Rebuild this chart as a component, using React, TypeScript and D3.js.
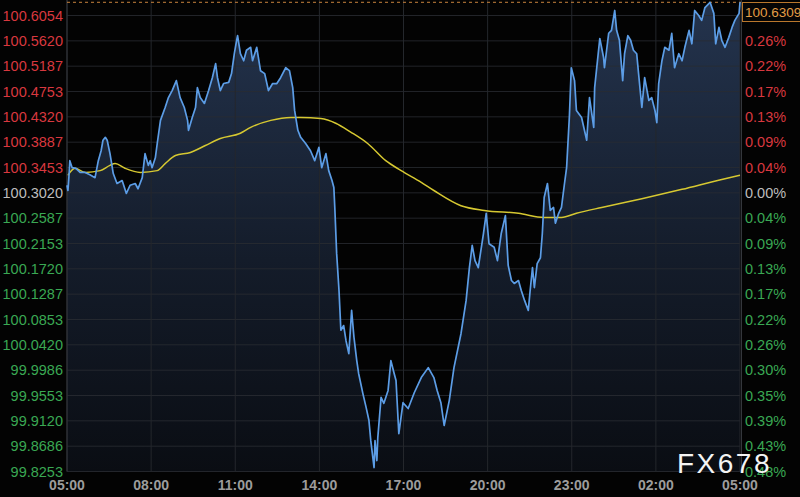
import React, { useEffect } from "react";
import * as d3 from "d3";

const W = 800;
const H = 497;

// minutes after 05:00
const priceTimes = [
  0, 2, 4, 6, 11, 19, 28, 39, 49, 60, 67, 73, 77, 82, 86, 92, 99, 107, 118, 127, 135, 146, 152, 161, 167, 174, 178, 182, 189, 193,
  200, 210, 217, 225, 234, 242, 251, 258, 260, 268, 275, 279, 285, 294, 303, 311, 318, 322, 328, 335, 346, 352, 358, 363, 365,
  371, 378, 384, 393, 397, 406, 414, 423, 431, 440, 449, 457, 468, 476, 483, 487, 494, 500, 511, 521, 530, 539, 545, 554, 560,
  567, 571, 573, 577, 582, 586, 592, 597, 603, 609, 614, 620, 624, 633, 640, 646, 650, 657, 659, 663, 665, 672, 678, 687, 693,
  700, 704, 710, 719, 730, 743, 758, 773, 785, 792, 800, 807, 818, 828, 843, 854, 861, 867, 873, 880, 891, 897, 903, 914, 921,
  929, 938, 944, 951, 957, 966, 972, 979, 987, 991, 996, 1000, 1006, 1013, 1017, 1021, 1028, 1034, 1041, 1045, 1052, 1058, 1064,
  1069, 1075, 1079, 1086, 1090, 1101, 1112, 1118, 1127, 1129, 1140, 1148, 1150, 1159, 1165, 1172, 1176, 1182, 1189, 1193, 1200,
  1206, 1212, 1219, 1223, 1230, 1236, 1245, 1251, 1258, 1262, 1266, 1273, 1279, 1288, 1294, 1300, 1309, 1316, 1322, 1331, 1337,
  1343, 1352, 1358, 1365, 1376, 1384, 1388, 1395, 1401, 1408, 1416, 1423, 1429, 1438, 1440,
];
const priceValues = [
  100.315, 100.306, 100.328, 100.357, 100.345, 100.344, 100.337, 100.337, 100.333, 100.328, 100.357, 100.374, 100.392, 100.397,
  100.392, 100.369, 100.335, 100.318, 100.323, 100.301, 100.315, 100.318, 100.309, 100.328, 100.369, 100.349, 100.357, 100.345,
  100.362, 100.386, 100.426, 100.448, 100.465, 100.477, 100.494, 100.465, 100.448, 100.426, 100.409, 100.431, 100.448, 100.482,
  100.465, 100.455, 100.477, 100.499, 100.523, 100.499, 100.477, 100.489, 100.491, 100.506, 100.54, 100.563, 100.571, 100.54,
  100.528, 100.546, 100.551, 100.528, 100.551, 100.511, 100.506, 100.477, 100.489, 100.489, 100.499, 100.516, 100.511, 100.482,
  100.443, 100.409, 100.397, 100.386, 100.374, 100.357, 100.38, 100.345, 100.369, 100.34, 100.323, 100.311, 100.277, 100.198,
  100.135, 100.067, 100.075, 100.049, 100.027, 100.101, 100.055, 100.015, 99.993, 99.959, 99.935, 99.913, 99.878, 99.832, 99.878,
  99.844, 99.883, 99.952, 99.942, 99.964, 100.015, 99.993, 99.981, 99.89, 99.943, 99.933, 99.96, 99.986, 100.003, 99.986, 99.964,
  99.943, 99.904, 99.947, 100.003, 100.061, 100.118, 100.174, 100.212, 100.186, 100.174, 100.232, 100.267, 100.215, 100.209,
  100.186, 100.232, 100.263, 100.178, 100.152, 100.147, 100.152, 100.135, 100.118, 100.101, 100.135, 100.174, 100.14, 100.181,
  100.191, 100.232, 100.294, 100.318, 100.272, 100.277, 100.25, 100.267, 100.277, 100.315, 100.345, 100.434, 100.516, 100.494,
  100.443, 100.431, 100.392, 100.465, 100.414, 100.482, 100.566, 100.534, 100.516, 100.575, 100.58, 100.614, 100.58, 100.563,
  100.494, 100.54, 100.571, 100.563, 100.546, 100.54, 100.506, 100.448, 100.499, 100.46, 100.465, 100.443, 100.422, 100.489,
  100.528, 100.551, 100.546, 100.575, 100.516, 100.54, 100.528, 100.551, 100.58, 100.557, 100.614, 100.605, 100.597, 100.619,
  100.628, 100.609, 100.557, 100.585, 100.563, 100.551, 100.568, 100.585, 100.597, 100.609, 100.628,
];

const maTimes = [
  2, 17, 39, 71, 92, 103, 124, 157, 193, 210, 232, 264, 296, 328, 371, 393, 436, 479, 500, 543, 575, 607, 644, 682, 715, 758, 785,
  843, 893, 966, 1021, 1058, 1090, 1144, 1230, 1316, 1401, 1440,
];
const maValues = [
  100.332, 100.344, 100.337, 100.34, 100.349, 100.352, 100.344, 100.337, 100.34, 100.352, 100.366, 100.371, 100.383, 100.395,
  100.404, 100.414, 100.426, 100.431, 100.431, 100.429, 100.421, 100.406, 100.386, 100.357, 100.34, 100.32, 100.306, 100.28,
  100.272, 100.267, 100.26, 100.26, 100.267, 100.277, 100.292, 100.308, 100.325, 100.332,
];

const yTickLabels = [
  "100.6054", "100.5620", "100.5187", "100.4753", "100.4320", "100.3887", "100.3453", "100.3020", "100.2587", "100.2153",
  "100.1720", "100.1287", "100.0853", "100.0420", "99.9986", "99.9553", "99.9120", "99.8686", "99.8253",
];
const baseValue = 100.302;
const lastPriceLabel = "100.6309";
const timeTickMinutes = [0, 180, 360, 540, 720, 900, 1080, 1260, 1440];
const timeTickLabels = ["05:00", "08:00", "11:00", "14:00", "17:00", "20:00", "23:00", "02:00", "05:00"];
const watermark = "FX678";

const RED = "#d8383f";
const GREEN = "#3aa853";
const GREY = "#bdbdbd";

export default function App() {
  useEffect(() => {
    document.body.style.margin = "0";
    document.body.style.background = "#000";
  }, []);

  const x = d3.scaleLinear().domain([0, 1440]).range([67, 740]);
  const tickVals = yTickLabels.map(Number);
  const y = d3
    .scaleLinear()
    .domain([tickVals[tickVals.length - 1], tickVals[0]])
    .range([471.5, 15.5]);

  const pts: [number, number][] = priceTimes.map((t, i) => [t, priceValues[i]]);
  const maPts: [number, number][] = maTimes.map((t, i) => [t, maValues[i]]);

  const line = d3
    .line<[number, number]>()
    .x((d) => x(d[0]))
    .y((d) => y(d[1]));
  const maLine = d3
    .line<[number, number]>()
    .x((d) => x(d[0]))
    .y((d) => y(d[1]))
    .curve(d3.curveMonotoneX);
  const area = d3
    .area<[number, number]>()
    .x((d) => x(d[0]))
    .y0(y.range()[0])
    .y1((d) => y(d[1]));

  const colorFor = (v: number) => (Math.abs(v - baseValue) < 1e-6 ? GREY : v > baseValue ? RED : GREEN);
  const pct = (v: number) => Math.abs(((v - baseValue) / baseValue) * 100).toFixed(2) + "%";
  const lastY = y(priceValues[priceValues.length - 1]);
  const [x0, x1] = x.range();

  return (
    <svg width={W} height={H} style={{ position: "absolute", left: 0, top: 0, display: "block", background: "#030303" }}>
      <defs>
        <linearGradient id="areaGrad" gradientUnits="userSpaceOnUse" x1="0" y1="0" x2="0" y2={y.range()[0]}>
          <stop offset="0%" stopColor="#24344e" />
          <stop offset="55%" stopColor="#141c2a" />
          <stop offset="100%" stopColor="#0a0d13" />
        </linearGradient>
        <clipPath id="plotClip">
          <rect x={x0} y={0} width={x1 - x0 + 1} height={y.range()[0] + 1} />
        </clipPath>
      </defs>
      <rect x={0} y={0} width={W} height={H} fill="#030303" />

      {/* area under price */}
      <path d={area(pts) ?? ""} fill="url(#areaGrad)" clipPath="url(#plotClip)" />

      {/* grid */}
      {tickVals.map((v, i) => (
        <line key={"h" + i} x1={x0} x2={x1} y1={y(v)} y2={y(v)} stroke="#2a2d33" strokeWidth={1} opacity={0.8} />
      ))}
      {timeTickMinutes.map((m, i) => (
        <line key={"v" + i} x1={x(m)} x2={x(m)} y1={0} y2={y.range()[0]} stroke="#24272c" strokeWidth={1} />
      ))}
      <line x1={x0} x2={x0} y1={0} y2={y.range()[0]} stroke="#34373c" />
      <line x1={741.5} x2={741.5} y1={0} y2={y.range()[0]} stroke="#34373c" />

      {/* dashed last price line */}
      <line x1={x0} x2={741} y1={lastY} y2={lastY} stroke="#c8843e" strokeDasharray="3,3" strokeWidth={1} />

      {/* moving average */}
      <path d={maLine(maPts) ?? ""} fill="none" stroke="#d6c831" strokeWidth={1.5} />
      {/* price line */}
      <path d={line(pts) ?? ""} fill="none" stroke="#5c9de6" strokeWidth={1.7} strokeLinejoin="round" />

      {/* left axis */}
      {yTickLabels.map((lab, i) => (
        <text
          key={"l" + i}
          x={63}
          y={y(tickVals[i])}
          dy="0.36em"
          textAnchor="end"
          fontFamily="Liberation Sans, Arial, sans-serif"
          fontSize={14.5}
          fill={colorFor(tickVals[i])}
        >
          {lab}
        </text>
      ))}

      {/* right axis */}
      {tickVals.slice(1).map((v, i) => (
        <text
          key={"r" + i}
          x={745}
          y={y(v)}
          dy="0.36em"
          textAnchor="start"
          fontFamily="Liberation Sans, Arial, sans-serif"
          fontSize={14.5}
          fill={colorFor(v)}
        >
          {pct(v)}
        </text>
      ))}

      {/* last price box */}
      <rect x={742.5} y={2.5} width={62} height={19} fill="#050505" stroke="#b9772c" strokeWidth={1} />
      <text x={745} y={17} fontFamily="Liberation Sans, Arial, sans-serif" fontSize={13.5} fill="#e39d45">
        {lastPriceLabel}
      </text>

      {/* time axis */}
      {timeTickMinutes.map((m, i) => (
        <text
          key={"t" + i}
          x={x(m)}
          y={485}
          dy="0.36em"
          textAnchor="middle"
          fontFamily="Liberation Sans, Arial, sans-serif"
          fontWeight="bold"
          fontSize={14}
          fill="#9c9c9c"
        >
          {timeTickLabels[i]}
        </text>
      ))}

      {/* watermark */}
      <text
        x={677}
        y={473}
        fontFamily="Liberation Sans, Arial, sans-serif"
        fontSize={28}
        letterSpacing={2.5}
        fill="#f4f4f4"
      >
        {watermark}
      </text>
    </svg>
  );
}
